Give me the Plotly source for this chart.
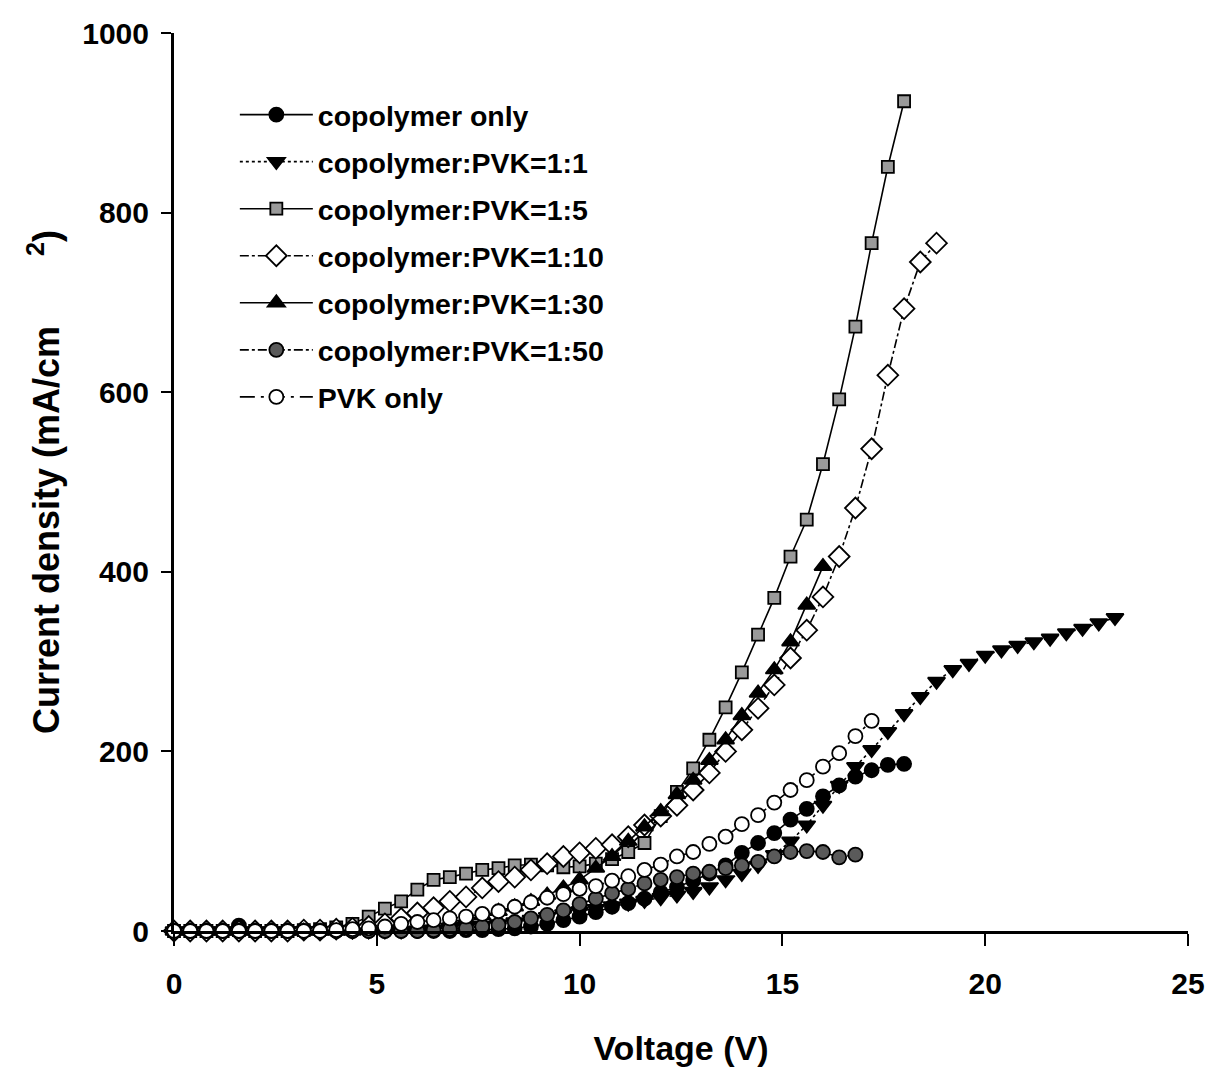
import plotly.graph_objects as go

# Voltage grid (V) shared by all series; each series uses the first len(J) points
voltage = [0, 0.4, 0.8, 1.2, 1.6, 2.0, 2.4, 2.8, 3.2, 3.6, 4.0, 4.4, 4.8, 5.2, 5.6,
           6.0, 6.4, 6.8, 7.2, 7.6, 8.0, 8.4, 8.8, 9.2, 9.6, 10.0, 10.4, 10.8, 11.2,
           11.6, 12.0, 12.4, 12.8, 13.2, 13.6, 14.0, 14.4, 14.8, 15.2, 15.6, 16.0,
           16.4, 16.8, 17.2, 17.6, 18.0, 18.4, 18.8, 19.2, 19.6, 20.0, 20.4, 20.8,
           21.2, 21.6, 22.0, 22.4, 22.8, 23.2]

j_copolymer = [0, 0, 0, 0, 6, 0, 0, 0, 0, 0, 0, 0, 0, 0, 0, 0, 0, 0,
               1, 1, 2, 3, 5, 8, 12, 16, 21, 27, 31, 36, 43, 49, 56, 64, 73, 87,
               98, 109, 124, 136, 150, 162, 172, 179, 185, 186]
j_1_1 = [0, 0, 0, 0, 0, 0, 0, 0, 0, 0, 0, 0, 0, 0, 0,
         1, 2, 3, 4, 6, 8, 10, 13, 16, 19, 22, 25, 28, 31, 34, 37, 40, 44, 49, 57,
         64, 73, 85, 100, 118, 140, 162, 183, 202, 222, 242, 261, 278, 291, 298,
         307, 313, 318, 322, 326, 332, 337, 343, 349]
j_1_5 = [0, 0, 0, 0, 1, 0, 0, 0, 1, 2, 4, 8, 16, 25, 33, 46, 57, 60, 64, 68,
         70, 73, 74, 73, 71, 72, 75, 80, 88, 98, 128, 155, 181, 213, 249, 288,
         330, 371, 417, 458, 520, 592, 673, 766, 851, 924]
j_1_10 = [0, 0, 0, 0, 0, 0, 0, 0, 1, 1, 2, 3, 5, 8, 14, 20, 26, 33, 38, 48,
          55, 60, 68, 75, 83, 87, 92, 96, 105, 118, 128, 140, 157, 176, 200, 224,
          248, 274, 304, 335, 372, 417, 471, 537, 619, 693, 745, 766]
j_1_30 = [0, 0, 0, 0, 0, 0, 0, 0, 0, 0, 0, 0,
          1, 2, 3, 5, 7, 10, 13, 17, 22, 27, 33, 40, 48, 57, 70, 83, 100, 116,
          133, 152, 168, 190, 213, 240, 265, 291, 322, 363, 406]
j_1_50 = [0, 0, 0, 0, 0, 0, 0, 0, 0, 0, 0, 0, 0, 0, 0, 0,
          1, 2, 3, 5, 7, 10, 14, 18, 23, 30, 36, 42, 47, 53, 57, 60, 64, 66, 70,
          73, 77, 83, 88, 89, 88, 82, 85]
j_pvk = [0, 0, 0, 0, 0, 0, 0, 0, 0, 0, 1, 2, 3,
         5, 8, 10, 12, 14, 16, 19, 22, 27, 32, 37, 41, 47, 50, 56, 61, 68, 74,
         83, 88, 97, 105, 119, 129, 143, 157, 168, 183, 198, 217, 234]

series_names = ["copolymer only", "copolymer:PVK=1:1", "copolymer:PVK=1:5",
                "copolymer:PVK=1:10", "copolymer:PVK=1:30", "copolymer:PVK=1:50",
                "PVK only"]
series_values = [j_copolymer, j_1_1, j_1_5, j_1_10, j_1_30, j_1_50, j_pvk]

x_ticks = [0, 5, 10, 15, 20, 25]
y_ticks = [0, 200, 400, 600, 800, 1000]

styles = [
    dict(symbol="circle", fill="black", size=14, dash="solid"),
    dict(symbol="triangle-down", fill="black", size=15, dash="dot"),
    dict(symbol="square", fill="#9a9a9a", size=12, dash="solid"),
    dict(symbol="diamond", fill="white", size=16, dash="dashdot"),
    dict(symbol="triangle-up", fill="black", size=15, dash="solid"),
    dict(symbol="circle", fill="#5a5a5a", size=14, dash="dashdot"),
    dict(symbol="circle", fill="white", size=14, dash="longdashdot"),
]

FONT = "Liberation Sans, Arial, sans-serif"

fig = go.Figure()
for i, (name, vals, st) in enumerate(zip(series_names, series_values, styles)):
    fig.add_trace(go.Scatter(
        x=voltage[:len(vals)], y=vals, name=name, mode="lines+markers",
        legendgroup=f"g{i}",
        cliponaxis=False,
        line=dict(color="black", width=1.6, dash=st["dash"]),
        marker=dict(symbol=st["symbol"], size=st["size"], color=st["fill"],
                    line=dict(color="black", width=1.8)),
    ))

fig.update_layout(
    width=1209, height=1081,
    margin=dict(l=174, r=21, t=33, b=150, autoexpand=False),
    paper_bgcolor="white", plot_bgcolor="white",
    font=dict(family=FONT, color="black", size=28, weight="bold"),
    showlegend=True,
    legend=dict(
        x=0.06, y=0.937, xanchor="left", yanchor="top",
        bgcolor="rgba(0,0,0,0)", borderwidth=0,
        font=dict(family=FONT, size=28.5, color="black", weight="bold"),
        itemwidth=73, tracegroupgap=7,
    ),
    xaxis=dict(
        range=[0, 25], tickvals=x_ticks, ticktext=[str(t) for t in x_ticks],
        showgrid=False, zeroline=False, automargin=False,
        showline=True, linecolor="black", linewidth=3,
        ticks="outside", ticklen=12, tickwidth=2, tickcolor="black",
        ticklabelstandoff=12,
        tickfont=dict(family=FONT, size=30, weight="bold"),
        title=dict(text="Voltage (V)", standoff=38,
                   font=dict(family=FONT, size=34, weight="bold")),
    ),
    yaxis=dict(
        range=[0, 1000], tickvals=y_ticks, ticktext=[str(t) for t in y_ticks],
        showgrid=False, zeroline=False, automargin=False,
        showline=True, linecolor="black", linewidth=3,
        ticks="outside", ticklen=10, tickwidth=2, tickcolor="black",
        ticklabelstandoff=6,
        tickfont=dict(family=FONT, size=30, weight="bold"),
        title=dict(text="Current density (mA/cm" + "\u00a0" * 7 + "<sup>2</sup>)",
                   standoff=12,
                   font=dict(family=FONT, size=36, weight="bold")),
    ),
)

fig.write_html(
    "out.html",
    config={"displayModeBar": False},
    post_script="document.body.style.margin='0px';document.body.style.overflow='hidden';",
)
